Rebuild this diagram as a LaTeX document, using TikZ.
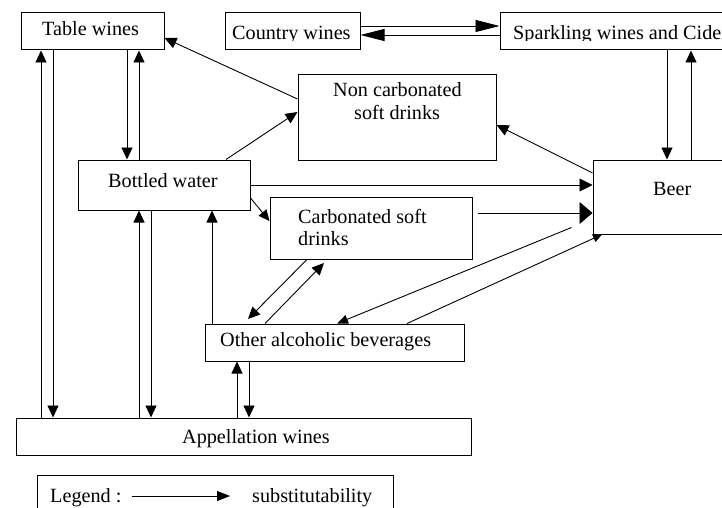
\documentclass[tikz,border=0pt]{standalone}
\usepackage{fontspec}
\setmainfont{Liberation Serif}
\usetikzlibrary{arrows.meta,calc}
\tikzset{
  box/.style={draw, line width=1pt, rectangle, inner sep=0pt},
  txt/.style={anchor=base west, inner sep=0pt, font=\fontsize{20.2}{24}\selectfont},
  con/.style={line width=0.9pt, -{Triangle[length=12pt,width=11pt]}},
  conlong/.style={line width=0.9pt, -{Triangle[length=24pt,width=12pt]}},
  conwide/.style={line width=0.9pt, -{Triangle[length=13pt,width=22pt]}},
  consmall/.style={line width=0.9pt, -{Triangle[length=9pt,width=8pt]}},
}
\begin{document}
\begin{tikzpicture}[x=1pt,y=-1pt]
\useasboundingbox (0,0) rectangle (722,508);
\clip (0,0) rectangle (722,508);
% boxes
\node[box, minimum width=143pt, minimum height=37pt] (tw) at (92.5,31.5) {};
\node[box, minimum width=135pt, minimum height=37pt] (cw) at (292.5,31.5) {};
\node[box, minimum width=240pt, minimum height=37pt] (sp) at (620,31.5) {};
\node[box, minimum width=198pt, minimum height=85pt] (nc) at (397,117.5) {};
\node[box, minimum width=147pt, minimum height=74pt] (beer) at (666.5,197) {};
\node[box, minimum width=172pt, minimum height=50pt] (bw) at (164,185) {};
\node[box, minimum width=202pt, minimum height=62pt] (cs) at (371,228) {};
\node[box, minimum width=259pt, minimum height=37pt] (oa) at (334.5,342.5) {};
\node[box, minimum width=455pt, minimum height=37pt] (aw) at (243.5,436.5) {};
\node[box, minimum width=356pt, minimum height=50pt] (lg) at (215,500) {};
% texts
\node[txt] (twt) at (42,36) {Table wines};
\begin{scope}
\clip (0,0) rectangle (722,41);
\node[txt] (cwt) at (232,40) {Country wines};
\node[txt] (spt) at (513,40) {Sparkling wines and Cider};
\end{scope}
\node[txt] (nct1) at (333,97) {Non carbonated};
\node[txt] (nct2) at (354,120) {soft drinks};
\node[txt] (beert) at (653,195) {Beer};
\node[txt] (bwt) at (108,187) {Bottled water};
\node[txt] (cst1) at (298,223) {Carbonated soft};
\node[txt] (cst2) at (298,245) {drinks};
\node[txt] (oat) at (220,346) {Other alcoholic beverages};
\node[txt] (awt) at (182,443) {Appellation wines};
\node[txt] (lgt1) at (50,502) {Legend :};
\node[txt] (lgt2) at (252,502) {substitutability};
% vertical connectors
\draw[con] (41,0 |- aw.north) -- (41,0 |- tw.south);
\draw[con] (53,0 |- tw.south) -- (53,0 |- aw.north);
\draw[con] (127,0 |- tw.south) -- (127,0 |- bw.north);
\draw[con] (139,0 |- bw.north) -- (139,0 |- tw.south);
\draw[con] (139,0 |- aw.north) -- (139,0 |- bw.south);
\draw[con] (151,0 |- bw.south) -- (151,0 |- aw.north);
\draw[con] (212,0 |- oa.north) -- (212,0 |- bw.south);
\draw[con] (237,0 |- aw.north) -- (237,0 |- oa.south);
\draw[con] (249,0 |- oa.south) -- (249,0 |- aw.north);
\draw[con] (667,0 |- sp.south) -- (667,0 |- beer.north);
\draw[con] (691,0 |- beer.north) -- (691,0 |- sp.south);
% horizontal
\draw[conlong] (cw.east |- 0,26) -- (sp.west |- 0,26);
\draw[conlong] (sp.west |- 0,35) -- (cw.east |- 0,35);
\draw[line width=0.9pt, -{Triangle[length=13pt,width=13pt]}] (bw.east |- 0,185) -- (beer.west |- 0,185);
\draw[conwide] ($(cs.east |- 0,213)+(5,0)$) -- (beer.west |- 0,213);
% diagonals
\draw[con] (nc.west |- 0,99) -- (tw.east |- 0,38);
\draw[con] (226,0 |- bw.north) -- (nc.west |- 0,112);
\draw[con] (beer.west |- 0,173) -- (nc.east |- 0,125);
\draw[line width=0.9pt, -{Triangle[length=11pt,width=10pt]}] (bw.east |- 0,198) -- (cs.west |- 0,221);
\draw[con] (307,0 |- cs.south) -- (248,319);
\draw[con] (265,0 |- oa.north) -- (324,263);
\draw[line width=0.9pt, -{Triangle[length=11pt,width=9pt]}] ($(beer.south west)+(-21,-7)$) -- (337,0 |- oa.north);
\draw[consmall] (407,0 |- oa.north) -- (602,0 |- beer.south);
% legend arrow
\coordinate (la) at (132,496);
\coordinate (lb) at (230,496);
\draw[line width=0.9pt, -{Triangle[length=13pt,width=10pt]}] (la) -- (lb);
\end{tikzpicture}
\end{document}
